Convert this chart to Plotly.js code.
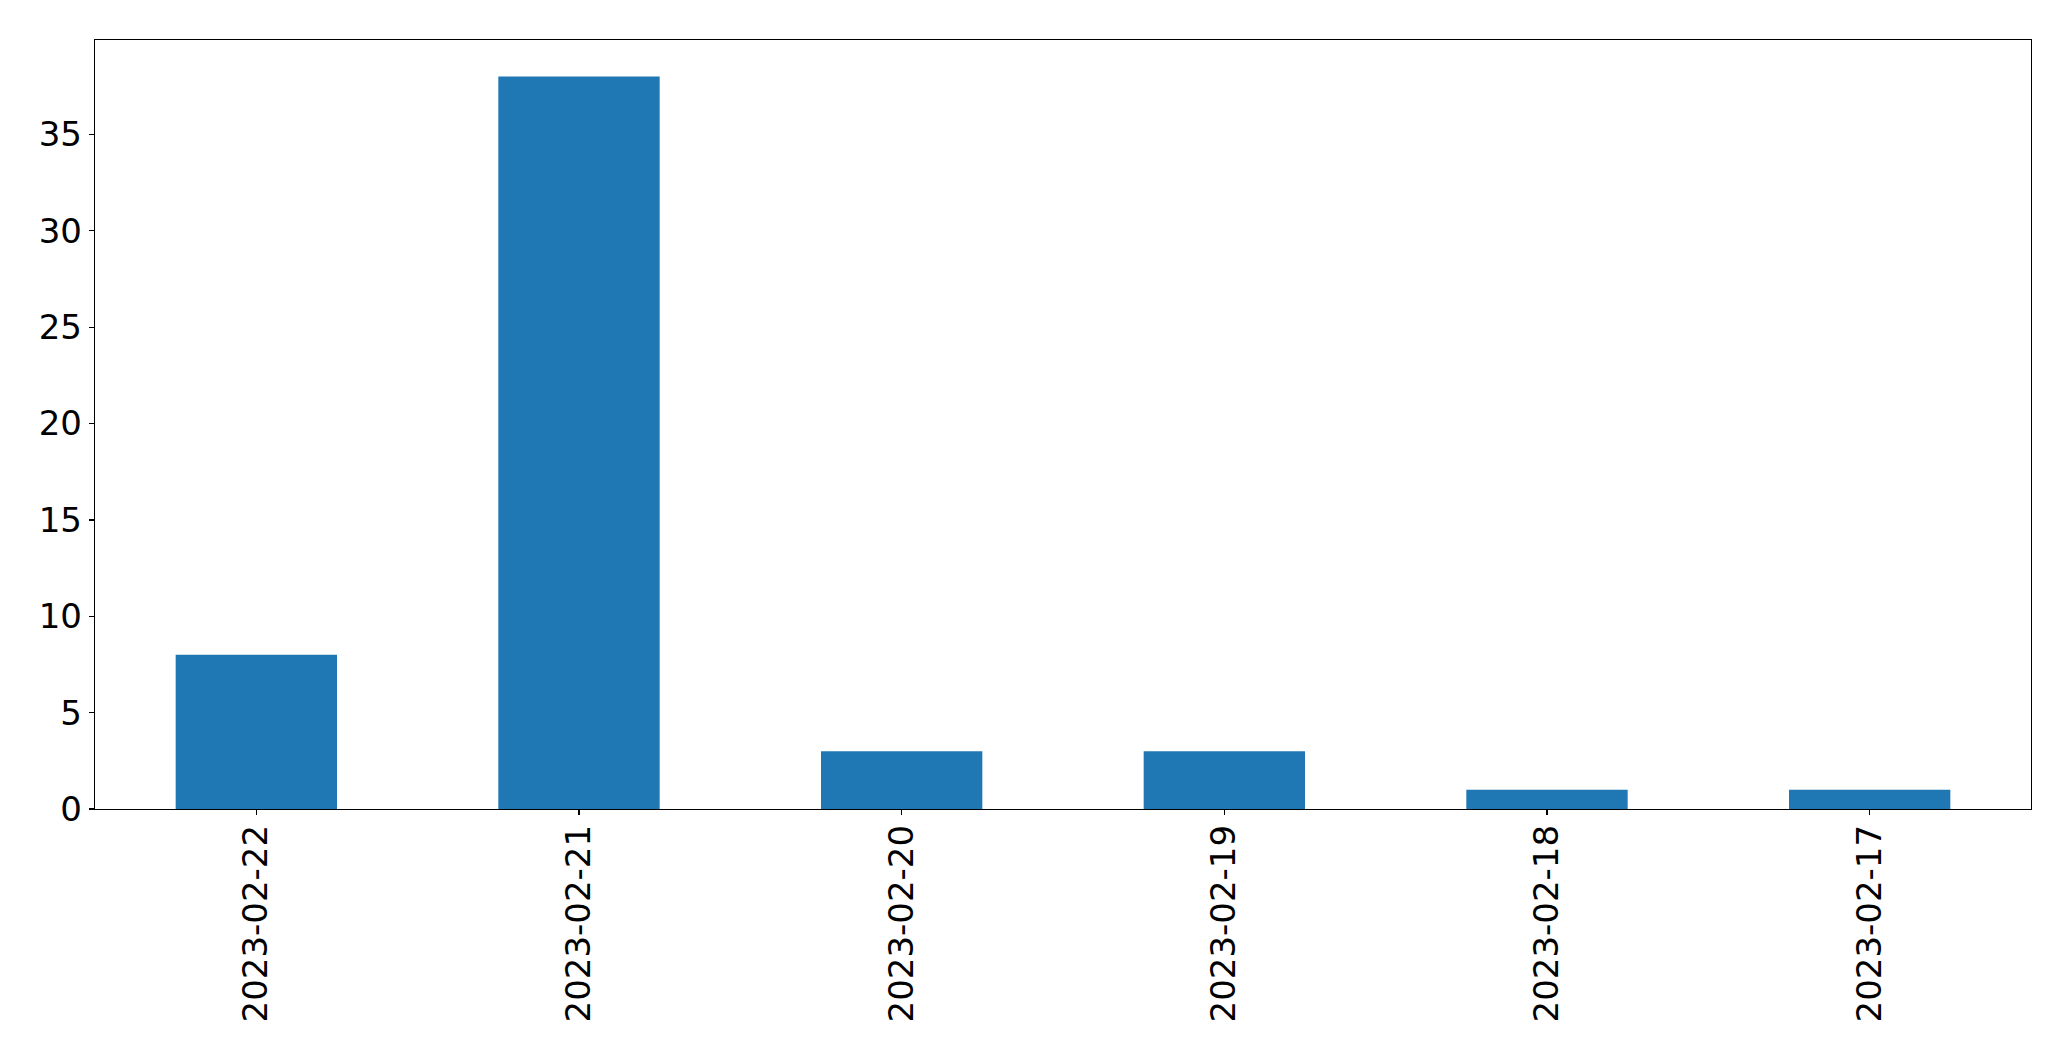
<!DOCTYPE html>
<html>
<head>
<meta charset="utf-8">
<script src="https://cdn.plot.ly/plotly-3.0.1.min.js"></script>
<style>html,body{margin:0;padding:0;background:#fff;}#chart{width:2071px;height:1061px;}</style>
</head>
<body>
<div id="chart"></div>
<script>
const categories = ["2023-02-22", "2023-02-21", "2023-02-20", "2023-02-19", "2023-02-18", "2023-02-17"];
const counts = [8, 38, 3, 3, 1, 1];
const yTicks = [0, 5, 10, 15, 20, 25, 30, 35];

const trace = {
  type: 'bar',
  x: categories,
  y: counts,
  width: 0.5,
  marker: {color: '#1f77b4', line: {width: 0}},
  hoverinfo: 'x+y'
};

const axisCommon = {
  showline: true,
  mirror: true,
  linecolor: '#000',
  linewidth: 1.3,
  ticks: 'outside',
  ticklen: 5,
  tickwidth: 1.3,
  tickcolor: '#000',
  showgrid: false,
  zeroline: false,
  tickfont: {family: 'DejaVu Sans', size: 34, color: '#000'}
};

const layout = {
  width: 2071,
  height: 1061,
  margin: {l: 94.5, r: 39.5, t: 39.5, b: 252, pad: 0},
  paper_bgcolor: '#fff',
  plot_bgcolor: '#fff',
  showlegend: false,
  xaxis: Object.assign({}, axisCommon, {
    type: 'category',
    range: [-0.5, 5.5],
    tickangle: -90,
    ticklabelstandoff: -4
  }),
  yaxis: Object.assign({}, axisCommon, {
    range: [0, 39.9],
    tickvals: yTicks,
    ticktext: yTicks.map(String)
  })
};

Plotly.newPlot('chart', [trace], layout, {displayModeBar: false, staticPlot: true});
</script>
</body>
</html>
